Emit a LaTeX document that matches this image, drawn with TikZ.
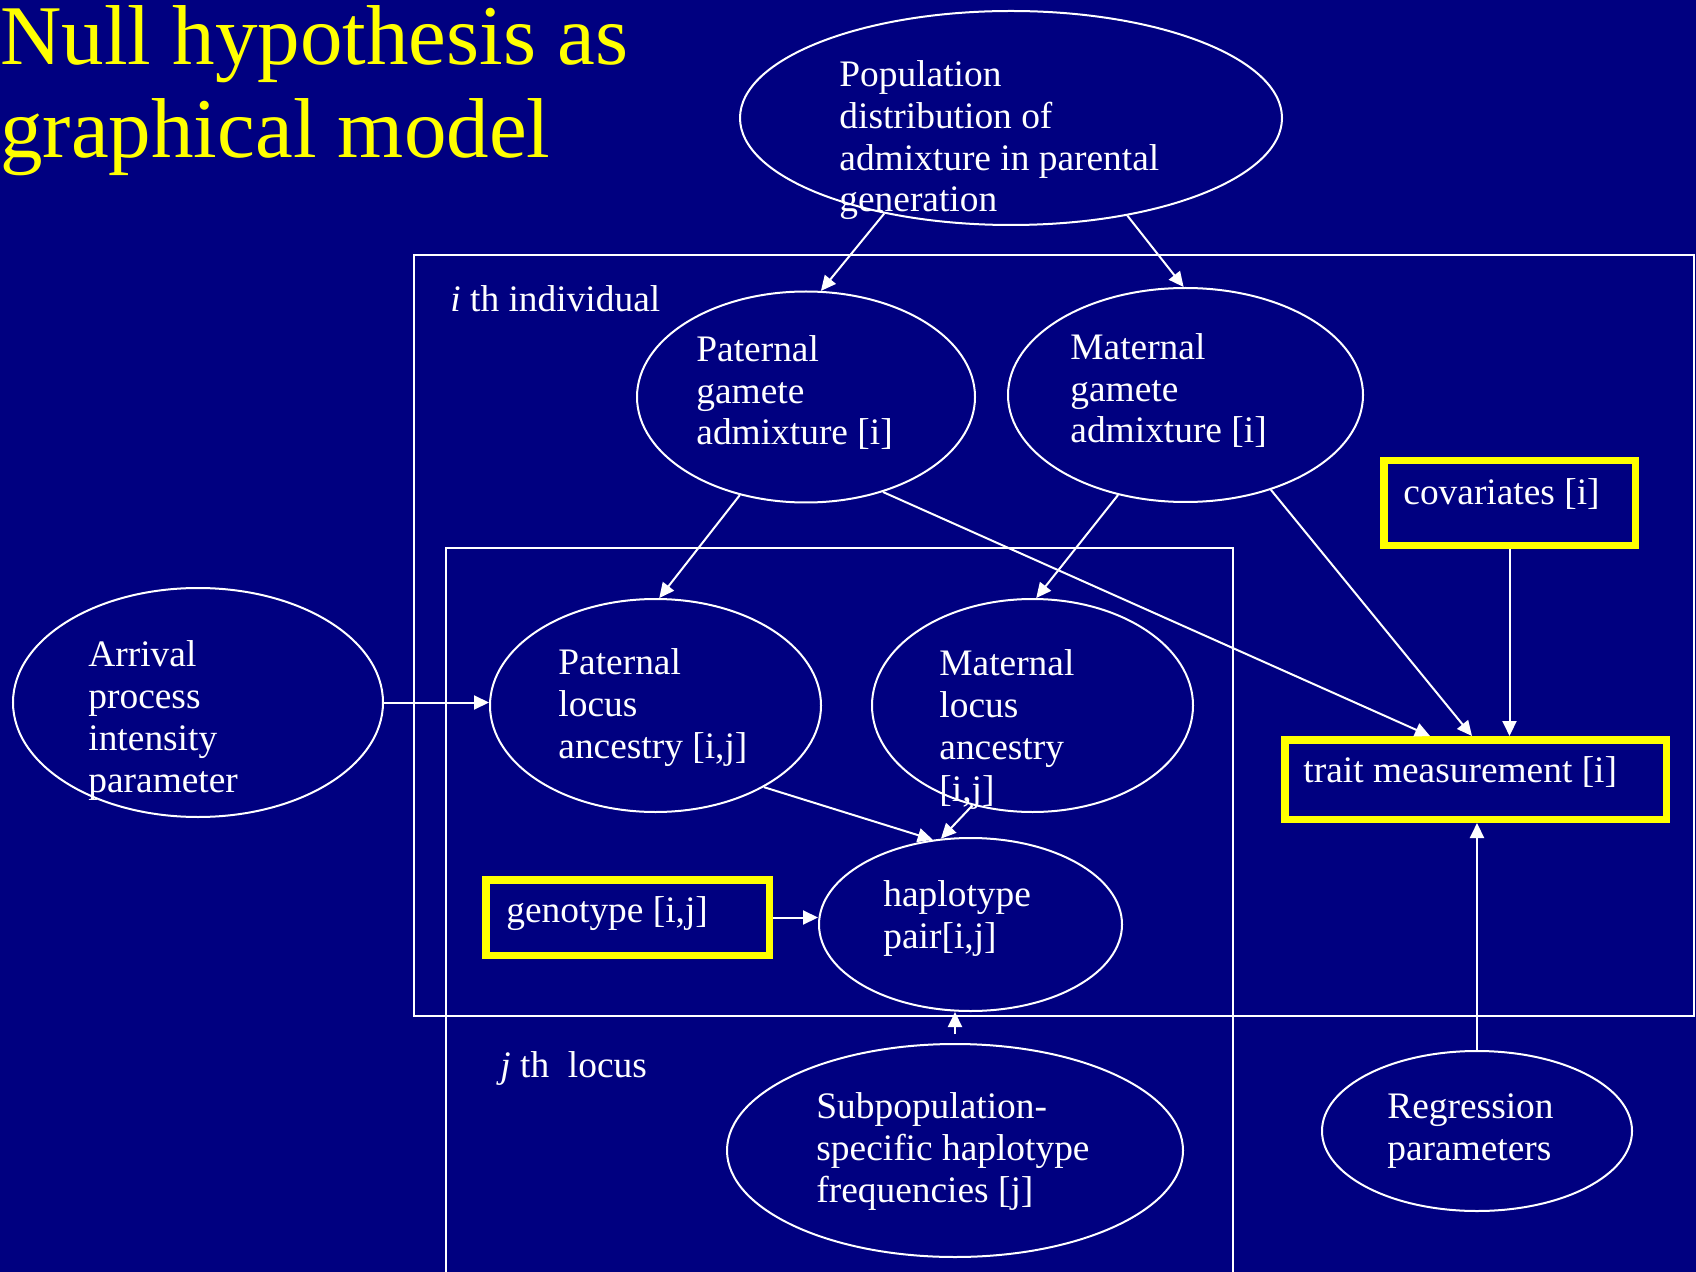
\documentclass[tikz,border=0pt]{standalone}
\usepackage{fontspec}
\setmainfont{Liberation Serif}
\usetikzlibrary{shapes.geometric,arrows.meta}
\definecolor{bgnavy}{RGB}{0,0,128}
\definecolor{ttlyellow}{RGB}{255,255,0}
\begin{document}
\begin{tikzpicture}[x=0.5pt,y=-0.5pt,
  oval/.style={draw=white, line width=1pt, ellipse, inner sep=0pt},
  obsbox/.style={draw=ttlyellow, line width=3.75pt, rectangle, inner sep=0pt},
  lbl/.style={text=white, inner sep=0pt, font=\fontsize{18.7}{20.9}\selectfont, align=left, anchor=base west},
  ttl/.style={text=ttlyellow, inner sep=0pt, font=\fontsize{42.5}{46.5}\selectfont, align=left, anchor=base west},
  plate/.style={draw=white, line width=1pt},
  edge/.style={draw=white, line width=1pt, -{Triangle[length=7.5pt,width=7pt]}},
]
\fill[bgnavy] (0,0) rectangle (1696,1272);
\useasboundingbox (0,0) rectangle (1696,1272);

% plates
\draw[plate] (414,255) rectangle (1694,1016);
\draw[plate] (446,1280) -- (446,548) -- (1233,548) -- (1233,1280);

% title (anchored at the baseline of its last line)
\node[ttl] (title) at (0,158) {Null hypothesis as\\graphical model};

% ellipse nodes
\node[oval, minimum width=271pt, minimum height=107pt] (pop) at (1011,118) {};
\node[oval, minimum width=169pt, minimum height=105.5pt] (pg) at (806,397) {};
\node[oval, minimum width=177.5pt, minimum height=107pt] (mg) at (1185.5,395) {};
\node[oval, minimum width=185pt, minimum height=114.5pt] (arr) at (198,702.5) {};
\node[oval, minimum width=165.5pt, minimum height=106.5pt] (pl) at (655.5,705.5) {};
\node[oval, minimum width=160.5pt, minimum height=106.5pt] (ml) at (1032.5,705.5) {};
\node[oval, minimum width=151.5pt, minimum height=86.5pt] (hap) at (970.5,924.5) {};
\node[oval, minimum width=228pt, minimum height=106.5pt] (sub) at (955,1150.5) {};
\node[oval, minimum width=155pt, minimum height=80pt] (reg) at (1477,1131) {};

% observed boxes
\node[obsbox, minimum width=125.75pt, minimum height=42.25pt] (cov) at (1509.5,503) {};
\node[obsbox, minimum width=190.75pt, minimum height=39.75pt] (trait) at (1475.5,779.5) {};
\node[obsbox, minimum width=141.75pt, minimum height=37.75pt] (geno) at (627.5,917.5) {};

% labels (multi-line labels anchored at the baseline of their last line)
\node[lbl] (popt) at (839,212) {Population\\distribution of\\admixture in parental\\generation};
\node[lbl] (ilab) at (450,312) {\textit{i} th individual};
\node[lbl] (pgt) at (696,445) {Paternal\\gamete\\admixture [i]};
\node[lbl] (mgt) at (1070,443) {Maternal\\gamete\\admixture [i]};
\node[lbl] (covt) at (1403,504) {covariates [i]};
\node[lbl] (arrt) at (88,792) {Arrival\\process\\intensity\\parameter};
\node[lbl] (plt) at (558,758) {Paternal\\locus\\ancestry [i,j]};
\node[lbl] (mlt) at (939,801) {Maternal\\locus\\ancestry\\{[i,j]}};
\node[lbl] (traitt) at (1303,782) {trait measurement [i]};
\node[lbl] (genot) at (506,922) {genotype [i,j]};
\node[lbl] (hapt) at (883,948) {haplotype\\pair[i,j]};
\node[lbl] (jlab) at (500,1077) {\textit{j} th\ \ locus};
\node[lbl] (subt) at (816,1202) {Subpopulation-\\specific haplotype\\frequencies [j]};
\node[lbl] (regt) at (1387,1160) {Regression\\parameters};

% connectors
\draw[edge] (pop.217) -- (pg.82);
\draw[edge] (pop.-40) -- (mg.91);
\draw[edge] (pg.-124) -- (pl.88);
\draw[edge] (mg.-124) -- (ml.88);
\draw[edge] (pg.-51.5) -- ([xshift=-22.75pt]trait.north);
\draw[edge] (mg.-48.7) -- ([xshift=-1.75pt]trait.north);
\draw[edge] (cov.south) -- (cov.south |- trait.north);
\draw[edge] (reg.north) -- (reg.north |- trait.south);
\draw[edge] (arr.east) -- (arr.east -| pl.west);
\draw[edge] (pl.-37) -- (hap.114);
\draw[edge] (ml.-121.5) -- (hap.109);
\draw[edge] (geno.east) -- (geno.east -| hap.west);
\draw[edge, shorten <=4.5pt] (sub.north) -- (sub.north |- hap.south);
\end{tikzpicture}
\end{document}
